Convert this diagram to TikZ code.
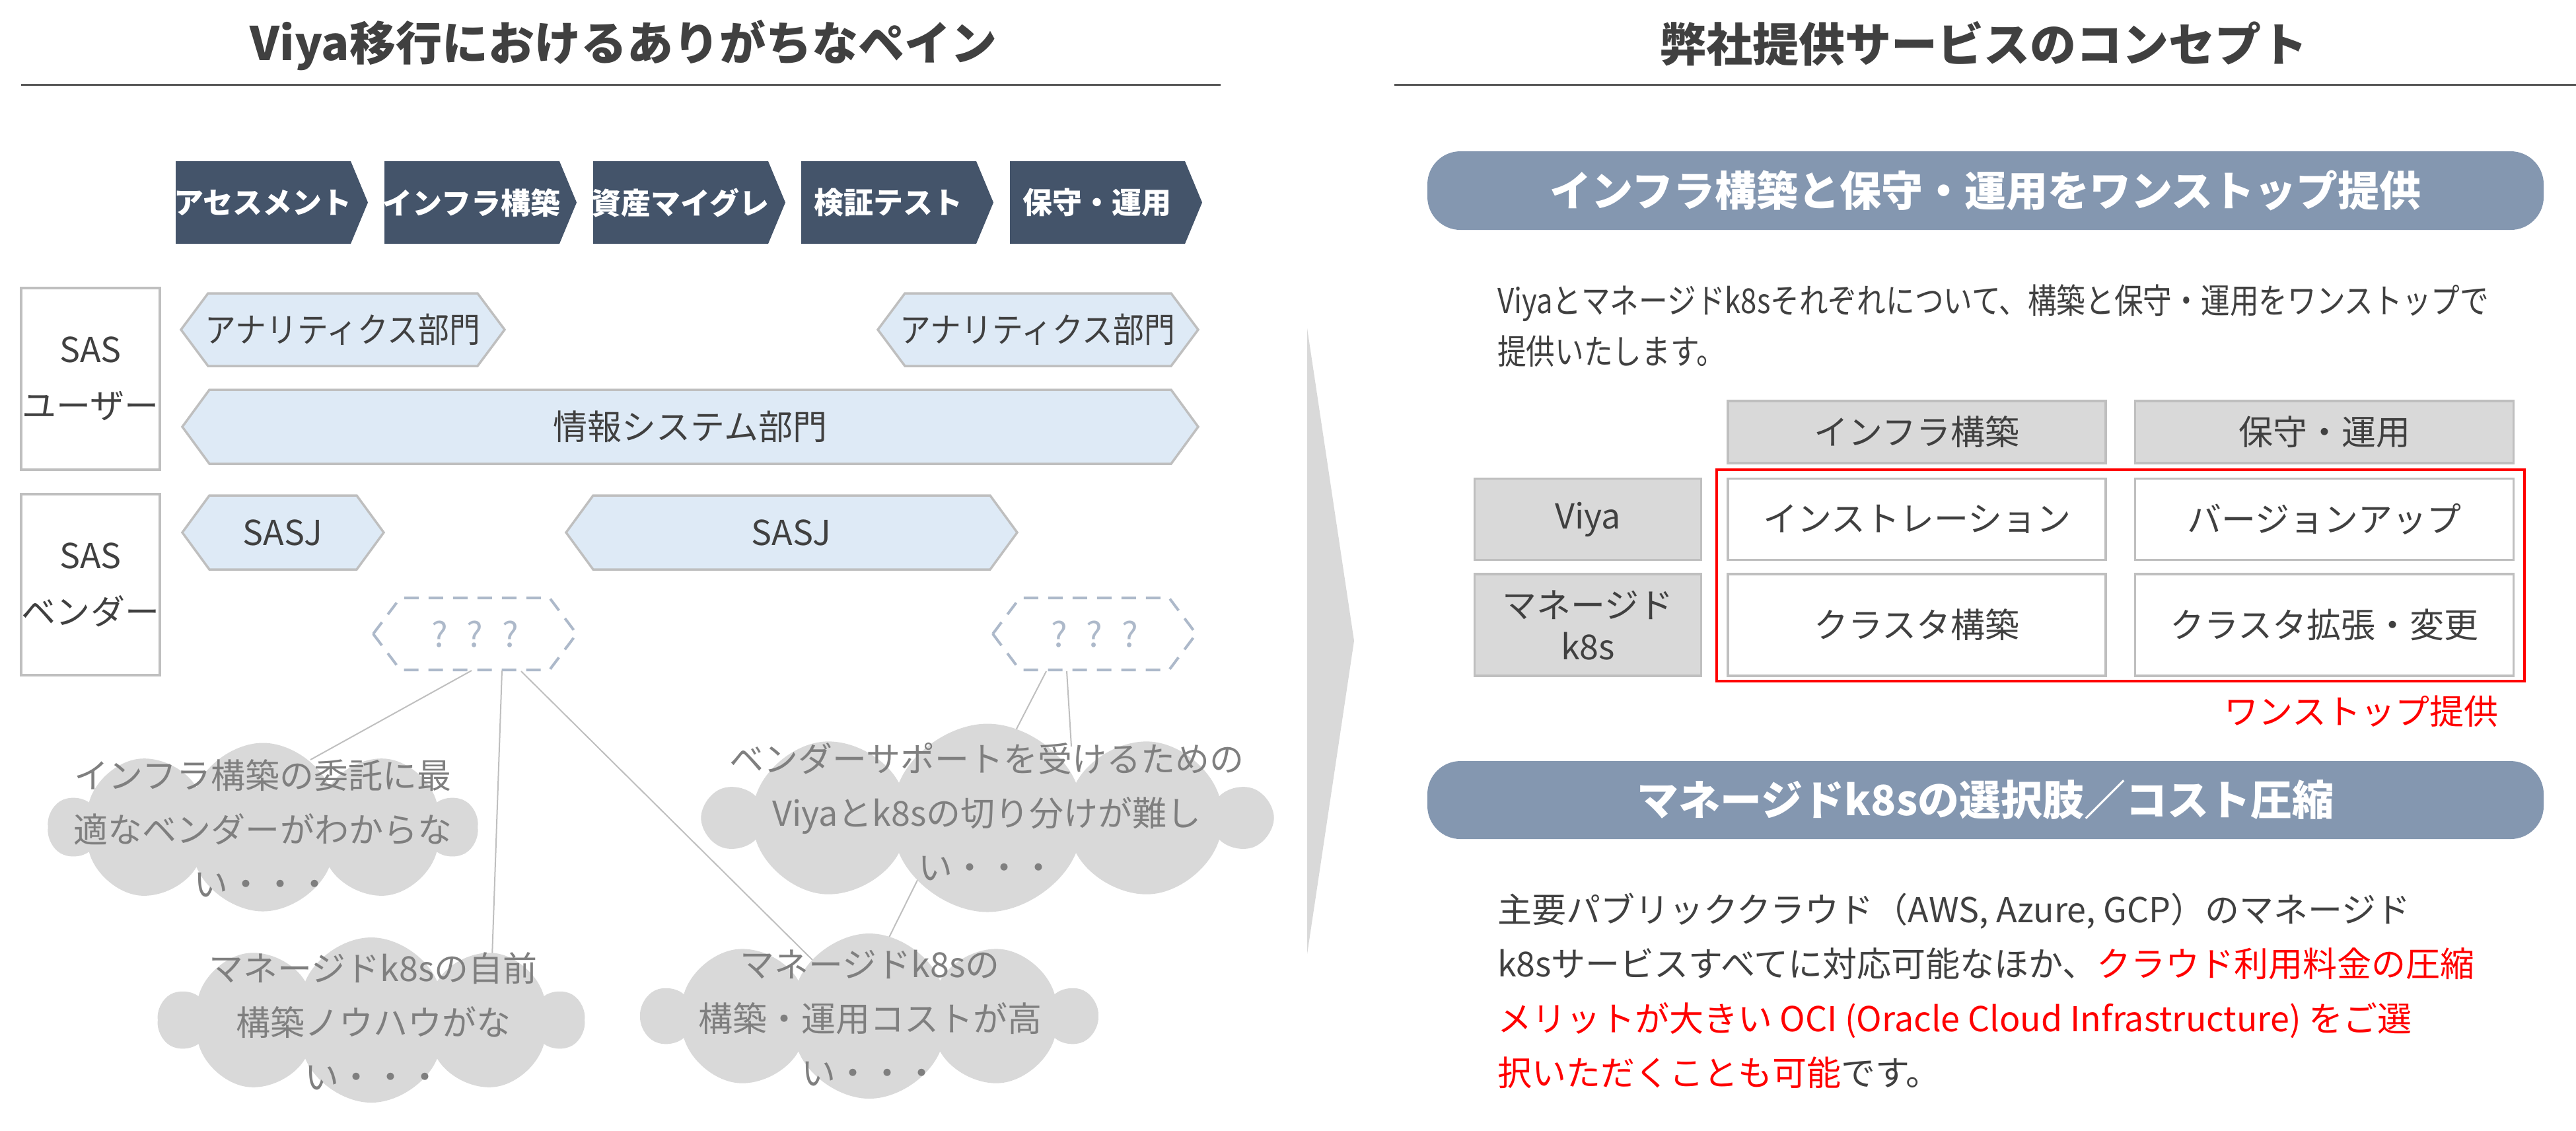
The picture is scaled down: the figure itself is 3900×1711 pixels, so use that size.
\documentclass[tikz,border=0pt]{standalone}
\usepackage{graphicx}
\usepackage{fontspec}
\setmainfont{Noto Sans CJK JP}
\usetikzlibrary{shapes.symbols}
\definecolor{txt}{HTML}{404040}
\definecolor{navy}{HTML}{44546A}
\definecolor{pillc}{HTML}{8497B0}
\definecolor{hexfill}{HTML}{DEEAF6}
\definecolor{bordc}{HTML}{BFBFBF}
\definecolor{dashc}{HTML}{ADB9CA}
\definecolor{boxgray}{HTML}{D9D9D9}
\definecolor{cloudtxt}{HTML}{7F7F7F}
\definecolor{rulec}{HTML}{595959}
\definecolor{redc}{HTML}{FF0000}
\newcommand{\fs}[2]{\fontsize{#1}{#2}\selectfont}
\newcommand{\hexa}[6]{\path[#1] (#2,{(#4+#5)/2}) -- ({#2+#6},#4) -- ({#3-#6},#4) -- (#3,{(#4+#5)/2}) -- ({#3-#6},#5) -- ({#2+#6},#5) -- cycle;}
\newcommand{\chev}[1]{\fill[navy] (#1,244) -- ({#1+265},244) -- ({#1+291},306.5) -- ({#1+265},369) -- (#1,369) -- cycle;}
\begin{document}
\begin{tikzpicture}[x=0.2pt,y=-0.2pt,
  sz/.style n args={2}{minimum width=#1*0.2pt, minimum height=#2*0.2pt},
  base/.style={inner sep=0pt, outer sep=0pt, text=txt, font=\fs{10.4}{17}},
  title/.style={base, font=\bfseries\fs{14}{17}},
  rule/.style={draw=rulec, line width=0.6pt},
  phase/.style={base, text=white, font=\bfseries\fs{9}{11}},
  hexst/.style={fill=hexfill, draw=bordc, line width=0.7pt, line join=miter},
  dashhex/.style={draw=dashc, line width=0.8pt, dash pattern=on 4.4pt off 3pt},
  qtext/.style={base, text=dashc},
  sasbox/.style={base, draw=bordc, line width=0.7pt, fill=white, align=center},
  cloudst/.style={shape=cloud, cloud puffs=10, cloud puff arc=135, cloud ignores aspect, fill=boxgray, draw=none, inner sep=0pt},
  cloudtext/.style={base, text=cloudtxt, align=center, font=\fs{10.4}{16.4}},
  conn/.style={draw=bordc, line width=0.4pt},
  pill/.style={base, fill=pillc, rounded corners=10pt, text=white, font=\bfseries\fs{12.6}{15}},
  para/.style={base, align=left},
  graybox/.style={base, fill=boxgray, draw=bordc, line width=0.7pt, align=center},
  whitebox/.style={base, fill=white, draw=bordc, line width=0.7pt, align=center}
]
\useasboundingbox (0,0) rectangle (3900,1711);
\fill[white] (0,0) rectangle (3900,1711);

% ---------- left half ----------
\node[title] (t1) at (944,68) {Viya移行におけるありがちなペイン};
\draw[rule] (32,128) -- (1848,128);

\chev{266}\chev{582}\chev{898}\chev{1213}\chev{1529}
\node[phase] (ph1) at (398,307) {アセスメント};
\node[phase] (ph2) at (714,307) {インフラ構築};
\node[phase] (ph3) at (1030,307) {資産マイグレ};
\node[phase] (ph4) at (1345,307) {検証テスト};
\node[phase] (ph5) at (1661,307) {保守・運用};

\node[sasbox, sz={210}{275}] (sasu) at (137,573.5) {SAS\\ユーザー};
\node[sasbox, sz={210}{274}] (sasv) at (137,885) {SAS\\ベンダー};

\hexa{hexst}{274}{764}{444}{554}{41}
\node[base] (an1) at (519,499) {\scalebox{0.9}[1]{アナリティクス部門}};
\hexa{hexst}{1329}{1814}{444}{554}{41}
\node[base] (an2) at (1571,499) {\scalebox{0.9}[1]{アナリティクス部門}};
\hexa{hexst}{276}{1814}{590}{702}{41}
\node[base] (jo) at (1045,646) {情報システム部門};
\hexa{hexst}{276}{581}{750}{862}{41}
\node[base] (sj1) at (428,806) {SASJ};
\hexa{hexst}{857}{1540}{750}{862}{41}
\node[base] (sj2) at (1198,806) {SASJ};

\hexa{dashhex}{565}{873}{905}{1014}{41}
\node[qtext] (q1) at (719,960) {\spaceskip=5pt ? ? ?};
\hexa{dashhex}{1503}{1811}{905}{1014}{41}
\node[qtext] (q2) at (1657,960) {\spaceskip=5pt ? ? ?};

% connectors
\coordinate (q1a) at (714,1015);
\coordinate (q1b) at (760,1015);
\coordinate (q1c) at (789,1016);
\coordinate (q2a) at (1584,1016);
\coordinate (q2b) at (1615,1016);
\coordinate (k1) at (470,1150);
\coordinate (k2) at (745,1450);
\coordinate (k4) at (1232,1455);
\coordinate (k3a) at (1520,1140);
\coordinate (k3b) at (1622,1130);
\coordinate (k3c) at (1400,1310);
\coordinate (k4b) at (1328,1455);
\draw[conn] (q1a) -- (k1);
\draw[conn] (q1b) -- (k2);
\draw[conn] (q1c) -- (k4);
\draw[conn] (q2a) -- (k3a);
\draw[conn] (q2b) -- (k3b);
\draw[conn] (k3c) -- (k4b);

\node[cloudst, sz={645}{255}] (cl1) at (398,1252) {};
\node[cloudst, sz={640}{250}] (cl2) at (562,1544) {};
\node[cloudst, sz={848}{285}] (cl3) at (1495,1238) {};
\node[cloudst, sz={683}{250}] (cl4) at (1316,1538) {};
\node[cloudtext] (ct1) at (398,1254) {インフラ構築の委託に最\\適なベンダーがわからな\\い・・・};
\node[cloudtext] (ct2) at (565,1546) {マネージドk8sの自前\\構築ノウハウがな\\い・・・};
\node[cloudtext] (ct3) at (1494,1229) {ベンダーサポートを受けるための\\Viyaとk8sの切り分けが難し\\い・・・};
\node[cloudtext] (ct4) at (1317,1541) {マネージドk8sの\\構築・運用コストが高\\い・・・};

% separator
\fill[boxgray] (1979,497) -- (2050,970) -- (1979,1444) -- cycle;

% ---------- right half ----------
\node[title] (t2) at (3003,66) {弊社提供サービスのコンセプト};
\draw[rule] (2111,128) -- (3900,128);

\node[pill, sz={1690}{119}] (pill1) at (3006,288.5) {インフラ構築と保守・運用をワンストップ提供};
\node[para, anchor=west, font=\fs{10.4}{15.4}] (para1) at (2267,493.5) {\scalebox{0.84}[1]{Viyaとマネージドk8sそれぞれについて、構築と保守・運用をワンストップで}\\\scalebox{0.84}[1]{提供いたします。}};

\node[graybox, sz={572}{94}] (h1) at (2902,654) {インフラ構築};
\node[graybox, sz={573}{94}] (h2) at (3519,654) {保守・運用};
\node[graybox, sz={343}{123}] (r1) at (2404,786) {Viya};
\node[graybox, sz={343}{154}, font=\fs{10.4}{12.6}] (r2) at (2404,946) {マネージド\\k8s};
\node[whitebox, sz={572}{123}] (c11) at (2902,786) {インストレーション};
\node[whitebox, sz={573}{123}] (c12) at (3519,786) {バージョンアップ};
\node[whitebox, sz={572}{154}] (c21) at (2902,946) {クラスタ構築};
\node[whitebox, sz={573}{154}] (c22) at (3519,946) {クラスタ拡張・変更};
\node[draw=redc, line width=0.8pt, inner sep=0pt, sz={1223}{320}] (redbox) at (3210.5,871) {};
\node[base, anchor=east, text=redc] (ws) at (3782,1077) {ワンストップ提供};

\node[pill, sz={1690}{118}] (pill2) at (3006,1211) {マネージドk8sの選択肢／コスト圧縮};
\node[para, anchor=west, font=\fs{10.4}{16.5}] (para2) at (2267,1500) {主要パブリッククラウド（AWS, Azure, GCP）のマネージド\\k8sサービスすべてに対応可能なほか、\textcolor{redc}{クラウド利用料金の圧縮}\\\textcolor{redc}{メリットが大きい OCI (Oracle Cloud Infrastructure) をご選}\\\textcolor{redc}{択いただくことも可能}です。};
\end{tikzpicture}
\end{document}
